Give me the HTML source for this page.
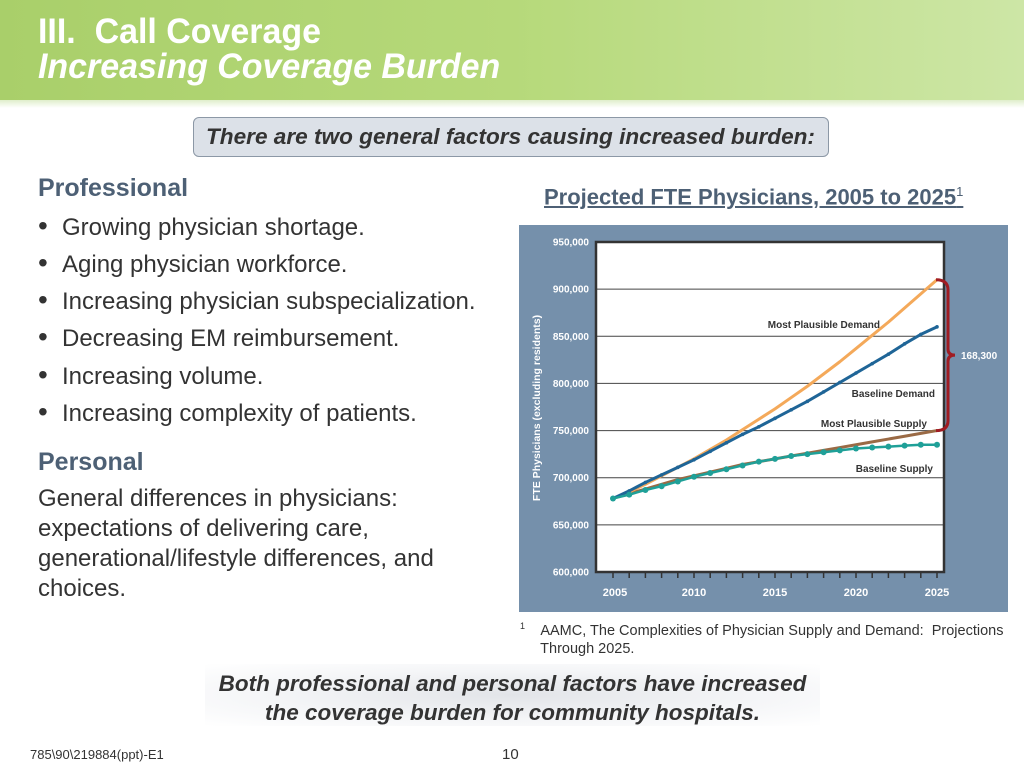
<!DOCTYPE html>
<html><head><meta charset="utf-8"><style>
body{margin:0;width:1024px;height:768px;position:relative;overflow:hidden;background:#fff;font-family:"Liberation Sans",sans-serif;}
.abs{position:absolute;}
.nar{transform:scaleX(0.97);transform-origin:left top;white-space:nowrap;}
#header{left:0;top:0;width:1024px;height:100px;background:linear-gradient(90deg,#a9cf6a 0%,#b6d97a 50%,#cde6a6 100%);}
#hshade{left:0;top:100px;width:1024px;height:8px;background:linear-gradient(#dfeecb,#fff);}
.title{color:#fff;font-weight:bold;font-size:35px;left:38px;}
#callout{left:193px;top:117px;width:636px;height:40px;background:#dce1e8;border:1.5px solid #8c98a6;border-radius:6px;box-sizing:border-box;}
#callout span{position:absolute;left:12px;top:6px;font-size:22.6px;font-weight:bold;font-style:italic;color:#333;white-space:nowrap;}
.h{color:#4d6075;font-weight:bold;font-size:25px;left:38px;}
.b{color:#333;font-size:24px;left:38px;white-space:nowrap;}
.b i{font-style:normal;display:inline-block;width:24px;font-size:28px;line-height:20px;}
#bottom{left:205px;top:664px;width:615px;height:62px;background:radial-gradient(ellipse at center,#e2e4e8 0%,#f4f5f7 55%,#fff 100%);}
</style></head><body>
<div class="abs" id="header"></div>
<div class="abs" id="hshade"></div>
<div class="abs title nar" style="top:12px">III.&nbsp; Call Coverage</div>
<div class="abs title nar" style="top:47px;font-style:italic">Increasing Coverage Burden</div>
<div class="abs" id="callout"><span>There are two general factors causing increased burden:</span></div>

<div class="abs h" style="top:174px">Professional</div>
<div class="abs b" style="top:214px"><i>•</i>Growing physician shortage.</div>
<div class="abs b" style="top:251px"><i>•</i>Aging physician workforce.</div>
<div class="abs b" style="top:288px"><i>•</i>Increasing physician subspecialization.</div>
<div class="abs b" style="top:325px"><i>•</i>Decreasing EM reimbursement.</div>
<div class="abs b" style="top:363px"><i>•</i>Increasing volume.</div>
<div class="abs b" style="top:400px"><i>•</i>Increasing complexity of patients.</div>
<div class="abs h" style="top:448px">Personal</div>
<div class="abs b" style="top:484px;line-height:30px">General differences in physicians:<br>expectations of delivering care,<br>generational/lifestyle differences, and<br>choices.</div>

<div class="abs" style="left:544px;top:184px;font-size:22px;font-weight:bold;color:#4d6075;text-decoration:underline;white-space:nowrap">Projected FTE Physicians, 2005 to 2025<sup style="font-size:13px;font-weight:normal">1</sup></div>

<svg class="abs" style="left:0;top:0" width="1024" height="768">
<rect x="519" y="225" width="489" height="387" fill="#7590ab"/>
<g id="plot"></g>
</svg>

<div class="abs" style="left:520px;top:617px;font-size:14.5px;color:#333;line-height:18px;white-space:nowrap"><sup style="font-size:9px">1</sup>&nbsp;&nbsp;&nbsp; AAMC, The Complexities of Physician Supply and Demand:&nbsp; Projections<br>&nbsp;&nbsp;&nbsp;&nbsp;&nbsp;Through 2025.</div>
<div class="abs" id="bottom"></div>
<div class="abs" style="left:165px;top:669px;width:695px;text-align:center;font-size:22.5px;font-weight:bold;font-style:italic;color:#333;line-height:29px">Both professional and personal factors have increased<br>the coverage burden for community hospitals.</div>
<div class="abs" style="left:30px;top:747px;font-size:13px;color:#333">785\90\219884(ppt)-E1</div>
<div class="abs" style="left:502px;top:746px;font-size:15px;color:#333">10</div>

<script>
const years=[2005,2006,2007,2008,2009,2010,2011,2012,2013,2014,2015,2016,2017,2018,2019,2020,2021,2022,2023,2024,2025];
const mostPlausibleDemand=[678,685,693,702,711,720,730,740,751,762,773,785,797,810,823,837,851,865,880,895,910];
const baselineDemand=[678,686,695,703,711,719,728,737,746,754,763,772,781,791,801,811,821,831,842,852,860];
const mostPlausibleSupply=[678,683,688,693,698,702,706,710,714,717,720,723,726,729,732,735,738,741,744,747,750];
const baselineSupply=[678,682,687,691,696,701,705,709,713,717,720,723,725,727,729,731,732,733,734,735,735];
const yTicks=[600,650,700,750,800,850,900,950];
const xTickLabels=[2005,2010,2015,2020,2025];
const gapLabel='168,300';
const NS='http://www.w3.org/2000/svg';
const g=document.getElementById('plot');
const X=y=>613+(y-2005)*(937-613)/20;
const Y=v=>572-(v-600)*(572-242)/350;
function mk(t,a){const e=document.createElementNS(NS,t);for(const k in a)e.setAttribute(k,a[k]);g.appendChild(e);return e;}
const bg=mk('rect',{x:596,y:242,width:348,height:330,fill:'#fff'});


yTicks.forEach(v=>{
 if(v>600&&v<950){const l=mk('line',{x1:596,x2:944,y1:Y(v),y2:Y(v),stroke:'#444','stroke-width':1});
 
 }
 const t=mk('text',{x:589,y:Y(v)+3.5,'text-anchor':'end','font-size':10,'font-weight':'bold',fill:'#fff'});
 t.textContent=v.toLocaleString('en-US')+',000';
 
 
});
const fr=mk('rect',{x:596,y:242,width:348,height:330,fill:'none',stroke:'#333','stroke-width':2.5});


years.forEach(y=>{const l=mk('line',{x1:X(y),x2:X(y),y1:572,y2:578,stroke:'#333','stroke-width':1.5});
 
 });
xTickLabels.forEach(y=>{const t=mk('text',{x:X(y)-(y==2005?-2:0),y:596,'text-anchor':'middle','font-size':11,'font-weight':'bold',fill:'#fff'});
 t.textContent=y;
 
 });
const yt=mk('text',{x:0,y:0,transform:'translate(540,408) rotate(-90)','text-anchor':'middle','font-size':10.5,'font-weight':'bold',fill:'#fff'});
yt.textContent='FTE Physicians (excluding residents)';


function line(data,color,w,name){const p=mk('polyline',{points:data.map((v,i)=>X(years[i])+','+Y(v)).join(' '),fill:'none',stroke:color,'stroke-width':w,'stroke-linejoin':'round'});
 
 }
line(mostPlausibleSupply,'#9a6a45',3,'most-plausible-supply-line');
line(mostPlausibleDemand,'#f4a95a',3,'most-plausible-demand-line');
line(baselineDemand,'#1f6597',3,'baseline-demand-line');
baselineDemand.forEach((v,i)=>{const c=mk('circle',{cx:X(years[i]),cy:Y(v),r:1.8,fill:'#1f6597'});
 
 });
line(baselineSupply,'#1fa098',2.5,'baseline-supply-line');
baselineSupply.forEach((v,i)=>{const c=mk('circle',{cx:X(years[i]),cy:Y(v),r:3,fill:'#1fa098'});
 
 });
[['Most Plausible Demand',880,328],['Baseline Demand',935,397],['Most Plausible Supply',927,427],['Baseline Supply',933,472]].forEach(a=>{
 const t=mk('text',{x:a[1],y:a[2],'text-anchor':'end','font-size':10,'font-weight':'bold',fill:'#333'});
 t.textContent=a[0];
 
 });
const bTop=Y(mostPlausibleDemand[20]),bBot=Y(mostPlausibleSupply[20]),bMid=(bTop+bBot)/2;
const br=mk('path',{d:`M936 ${bTop} Q948 ${bTop} 948 ${bTop+10} L948 ${bMid-6} Q948 ${bMid} 955 ${bMid} Q948 ${bMid} 948 ${bMid+6} L948 ${bBot-10} Q948 ${bBot} 936 ${bBot}`,fill:'none',stroke:'#a01c22','stroke-width':3});


const gl=mk('text',{x:961,y:bMid+4,'font-size':10,'font-weight':'bold',fill:'#fff'});
gl.textContent=gapLabel;


</script>
</body></html>
